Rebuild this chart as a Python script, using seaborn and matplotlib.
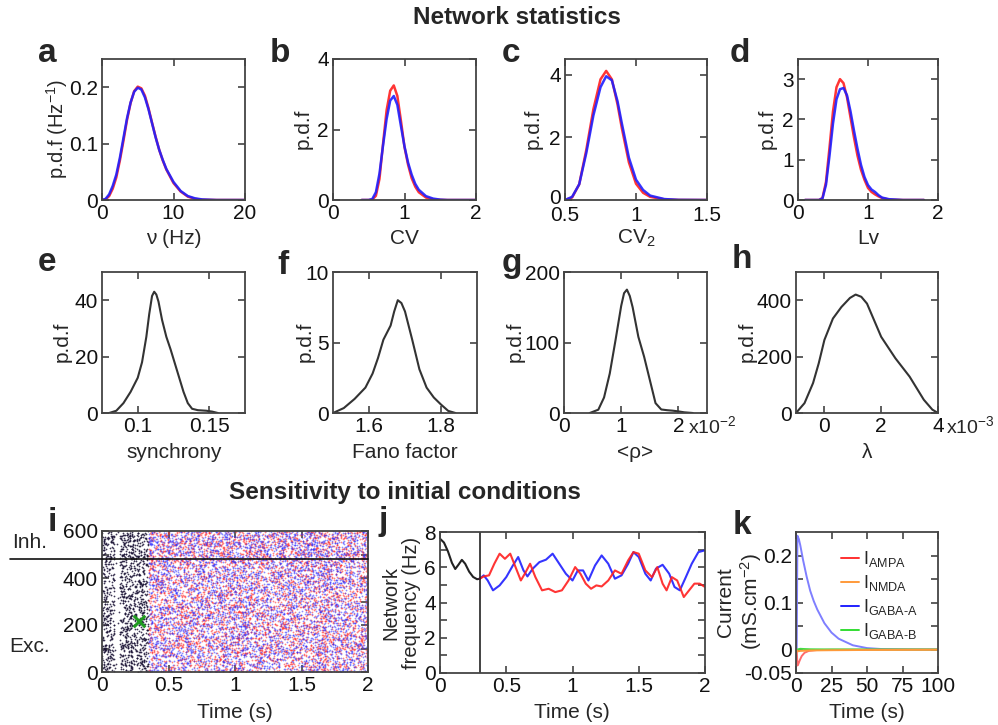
import numpy as np
import matplotlib
matplotlib.use("Agg")
import matplotlib.pyplot as plt
import matplotlib.transforms as mtransforms
import seaborn as sns
from matplotlib.lines import Line2D

# ---------------------------------------------------------------- data
# a: firing-rate distribution (Hz)
nu_x = [0, 0.5, 1, 1.5, 2, 2.5, 3, 3.5, 4, 4.5, 5, 5.5, 6, 6.5, 7, 7.5, 8, 8.5, 9, 10, 11, 12, 13, 14, 16, 20]
nu_red = [0, 0.001, 0.007, 0.02, 0.04, 0.07, 0.105, 0.142, 0.172, 0.193, 0.201, 0.198, 0.185, 0.163, 0.137, 0.112, 0.089, 0.07, 0.054, 0.03, 0.015, 0.006, 0.002, 0.0005, 0, 0]
nu_blue = [0, 0.002, 0.01, 0.025, 0.045, 0.075, 0.11, 0.145, 0.173, 0.192, 0.199, 0.196, 0.182, 0.161, 0.136, 0.111, 0.089, 0.071, 0.055, 0.032, 0.016, 0.007, 0.003, 0.001, 0, 0]

# b: coefficient of variation
cv_x = [0.4, 0.5, 0.55, 0.6, 0.65, 0.7, 0.75, 0.8, 0.85, 0.9, 0.95, 1.0, 1.05, 1.1, 1.15, 1.2, 1.3, 1.4, 1.5, 1.6, 2.0]
cv_red = [0, 0, 0.01, 0.12, 0.6, 1.6, 2.55, 3.1, 3.25, 2.95, 2.25, 1.5, 1.0, 0.62, 0.38, 0.22, 0.07, 0.02, 0.005, 0, 0]
cv_blue = [0, 0, 0.03, 0.22, 0.75, 1.55, 2.3, 2.82, 2.95, 2.7, 2.1, 1.52, 1.06, 0.72, 0.46, 0.29, 0.11, 0.04, 0.01, 0, 0]

# c: CV2
cv2_x = [0.5, 0.55, 0.6, 0.65, 0.7, 0.75, 0.79, 0.83, 0.87, 0.9, 0.95, 1.0, 1.05, 1.1, 1.2, 1.3, 1.5]
cv2_red = [0, 0.08, 0.5, 1.6, 2.9, 3.85, 4.12, 3.85, 3.05, 2.3, 1.2, 0.52, 0.23, 0.1, 0.02, 0.003, 0]
cv2_blue = [0, 0.1, 0.5, 1.5, 2.7, 3.6, 3.95, 3.82, 3.15, 2.45, 1.35, 0.65, 0.32, 0.14, 0.03, 0.005, 0]

# d: local variation
lv_x = [0.1, 0.3, 0.35, 0.4, 0.45, 0.5, 0.55, 0.6, 0.65, 0.7, 0.75, 0.8, 0.85, 0.9, 0.95, 1.0, 1.05, 1.1, 1.15, 1.2, 1.3, 1.5, 1.8]
lv_red = [0, 0, 0.05, 0.45, 1.3, 2.2, 2.8, 3.0, 2.9, 2.55, 2.05, 1.55, 1.1, 0.75, 0.5, 0.3, 0.2, 0.14, 0.09, 0.05, 0.01, 0, 0]
lv_blue = [0, 0, 0.04, 0.38, 1.1, 1.9, 2.5, 2.75, 2.78, 2.6, 2.2, 1.72, 1.27, 0.87, 0.57, 0.37, 0.26, 0.2, 0.12, 0.06, 0.02, 0, 0]

# e: synchrony
sync_x = [0.080, 0.085, 0.09, 0.095, 0.1, 0.103, 0.106, 0.108, 0.110, 0.1115, 0.113, 0.1145, 0.117, 0.12, 0.123, 0.126, 0.129, 0.132, 0.135, 0.138, 0.142, 0.148, 0.152, 0.156]
sync_pdf = [0, 0.8, 3.5, 7.5, 12.5, 18, 27, 35, 41.5, 43, 42, 39.5, 33, 27, 22.5, 17.5, 12.5, 7.5, 3.5, 1.5, 1.0, 0.8, 0.5, 0]

# f: Fano factor
fano_x = [1.5, 1.53, 1.56, 1.59, 1.61, 1.625, 1.64, 1.66, 1.67, 1.68, 1.69, 1.7, 1.72, 1.74, 1.76, 1.78, 1.8, 1.82, 1.84]
fano_pdf = [0, 0.35, 1.0, 1.8, 2.8, 3.9, 5.2, 6.2, 7.2, 8.0, 7.8, 7.2, 5.2, 3.1, 1.8, 1.1, 0.6, 0.15, 0]

# g: mean pairwise correlation (x10^-2)
rho_x = [0.45, 0.6, 0.7, 0.8, 0.9, 1.0, 1.05, 1.1, 1.15, 1.2, 1.3, 1.4, 1.5, 1.6, 1.7, 1.8, 1.9, 2.0, 2.1, 2.25]
rho_pdf = [0, 4.7, 22, 56, 103, 152, 170, 175, 166, 150, 108, 80, 47, 14, 5, 4, 3.3, 2.3, 1.0, 0]

# h: largest Lyapunov exponent (x10^-3)
lam_x = [-1.0, -0.7, -0.4, -0.2, 0.0, 0.3, 0.6, 0.9, 1.1, 1.3, 1.5, 2.0, 2.5, 3.0, 3.5, 3.8, 4.0]
lam_pdf = [0, 35, 106, 176, 259, 335, 376, 408, 420, 412, 388, 270, 194, 129, 47, 12, 0]

# i: raster, spike counts per time segment (exc rows 0-480, inh rows 480-600)
n_exc, n_inh = 480, 120
pre_edges = [0.0, 0.03, 0.095, 0.135, 0.22, 0.35]
pre_exc = [90, 160, 8, 270, 360]
pre_inh = [28, 48, 3, 80, 105]
post_edges = [0.35, 0.5, 1.0, 1.5, 2.0]
post_exc = [360, 1150, 1150, 1150]
post_inh = [105, 330, 330, 330]
perturb_t, perturb_n = 0.28, 215

# j: network frequency (Hz)
j_t_pre = [0, 0.03, 0.06, 0.09, 0.115, 0.14, 0.165, 0.19, 0.22, 0.25, 0.28, 0.3]
j_f_pre = [7.62, 7.4, 6.9, 6.25, 5.9, 6.15, 6.42, 6.2, 5.75, 5.45, 5.32, 5.35]
j_t_blue = [0.3, 0.33, 0.36, 0.4, 0.45, 0.5, 0.55, 0.59, 0.63, 0.66, 0.7, 0.75, 0.8, 0.85, 0.9, 0.95, 1.0,
            1.04, 1.08, 1.12, 1.17, 1.22, 1.27, 1.32, 1.37, 1.42, 1.46, 1.5, 1.55, 1.59, 1.63, 1.68, 1.73,
            1.77, 1.81, 1.85, 1.9, 1.95, 2.0]
j_f_blue = [5.35, 5.54, 5.25, 4.69, 4.97, 5.44, 6.1, 6.58, 5.82, 5.48, 5.92, 6.29, 6.43, 6.77, 6.2, 5.63, 5.25,
            5.82, 5.82, 5.25, 6.1, 6.67, 6.2, 5.35, 5.54, 6.2, 6.86, 6.58, 5.63, 5.25, 5.92, 6.14, 5.63,
            4.88, 4.69, 5.35, 6.2, 6.86, 6.96]
j_t_red = [0.3, 0.33, 0.37, 0.41, 0.45, 0.49, 0.53, 0.57, 0.61, 0.64, 0.68, 0.72, 0.77, 0.82, 0.87, 0.92, 0.97,
           1.02, 1.06, 1.1, 1.14, 1.18, 1.22, 1.27, 1.32, 1.37, 1.42, 1.46, 1.5, 1.55, 1.6, 1.64, 1.68,
           1.71, 1.75, 1.79, 1.84, 1.88, 1.92, 1.96, 2.0]
j_f_red = [5.35, 5.48, 5.54, 6.2, 6.77, 6.48, 6.77, 6.01, 5.25, 5.63, 6.2, 5.44, 4.69, 4.78, 4.59, 4.69, 5.25,
           6.01, 5.63, 5.07, 4.78, 4.97, 4.91, 5.25, 5.82, 5.63, 6.39, 6.86, 6.77, 5.82, 5.44, 6.01, 5.07,
           4.69, 5.44, 5.25, 4.31, 4.69, 5.07, 5.07, 4.88]

# k: synaptic currents (mS.cm^-2)
k_t_gabaa = [0, 0.5, 1.0, 2, 3, 5, 7.5, 10, 12.5, 15, 20, 25, 30, 40, 50, 60, 80, 100]
k_i_gabaa = [0, 0, 0.242, 0.235, 0.222, 0.19, 0.155, 0.125, 0.103, 0.085, 0.056, 0.036, 0.023, 0.009, 0.003, 0.001, 0.0002, 0]
k_t_ampa = [0, 0.5, 1.0, 1.5, 2.5, 4, 6, 9, 15, 25, 100]
k_i_ampa = [0, 0, -0.034, -0.032, -0.024, -0.014, -0.007, -0.003, -0.001, -0.0005, -0.0002]
k_t_nmda = [0, 1, 3, 10, 25, 50, 100]
k_i_nmda = [0, -0.004, -0.003, -0.002, -0.0015, -0.001, -0.0005]
k_t_gabab = [0, 1, 3, 6, 10, 20, 100]
k_i_gabab = [0, 0, 0.0015, 0.001, 0.0005, 0.0002, 0]

# ---------------------------------------------------------------- style
W, H = 998, 725
sns.set_theme(style="ticks")
plt.rcParams["font.family"] = ["Liberation Sans", "DejaVu Sans"]
plt.rcParams["mathtext.fontset"] = "custom"
plt.rcParams["mathtext.rm"] = "Liberation Sans"
plt.rcParams["mathtext.it"] = "Liberation Sans:italic"
plt.rcParams["mathtext.bf"] = "Liberation Sans:bold"

RED, BLUE, DARK = "#ff1f1f", "#1f1fff", "#333333"
FS = 15

fig = plt.figure(figsize=(W / 100, H / 100), dpi=100)


def box(l, t, r, b):
    return [l / W, 1 - b / H, (r - l) / W, (b - t) / H]


def ftext(x, y, s, **kw):
    fig.text(x / W, 1 - y / H, s, **kw)


def style(ax, xlim, ylim, xticks, xlabels, yticks, ylabels, xpad=3):
    ax.set_xlim(*xlim)
    ax.set_ylim(*ylim)
    ax.set_xticks(xticks, xlabels)
    ax.set_yticks(yticks, ylabels)
    ax.set_xlabel("")
    ax.set_ylabel("")
    ax.tick_params(direction="in", top=True, right=True, length=5, width=1.1,
                   color="#333333", labelsize=FS, labelcolor="#111111")
    ax.tick_params(axis="x", pad=xpad)
    ax.tick_params(axis="y", pad=3)
    for sp in ax.spines.values():
        sp.set_color("#444444")
        sp.set_linewidth(1.3)


def letter(x, y, s):
    ftext(x, y, s, fontsize=24, fontweight="bold", ha="left", va="baseline")


def pair(ax, x, r, b):
    sns.lineplot(x=x, y=r, ax=ax, color=RED, lw=1.8, alpha=0.9)
    sns.lineplot(x=x, y=b, ax=ax, color=BLUE, lw=1.8, alpha=0.9)


ftext(517, 18, "Network statistics", fontsize=17.5, fontweight="bold", ha="center", va="center")
ftext(405, 492, "Sensitivity to initial conditions", fontsize=17.5, fontweight="bold", ha="center", va="center")

# ---------------------------------------------------------------- row 1
ax = fig.add_axes(box(102, 59, 245, 200))
pair(ax, nu_x, nu_red, nu_blue)
style(ax, (0, 20), (0, 0.25), [0, 10, 20], ["0", "10", "20"], [0, 0.1, 0.2], ["0", "0.1", "0.2"])
ftext(174, 238, "ν (Hz)", fontsize=FS, ha="center", va="center")
ftext(57, 129, "p.d.f (Hz$^{\\mathregular{-1}}$)", fontsize=FS - 0.5, ha="center", va="center", rotation=90)
letter(38, 62, "a")

ax = fig.add_axes(box(333, 59, 476, 200))
pair(ax, cv_x, cv_red, cv_blue)
style(ax, (0, 2), (0, 4), [0, 1, 2], ["0", "1", "2"], [0, 2, 4], ["0", "2", "4"])
ftext(404, 238, "CV", fontsize=FS, ha="center", va="center")
ftext(303, 129, "p.d.f", fontsize=FS, ha="center", va="center", rotation=90)
letter(270, 62, "b")

ax = fig.add_axes(box(565, 59, 707, 200))
pair(ax, cv2_x, cv2_red, cv2_blue)
style(ax, (0.5, 1.5), (0, 4.5), [0.5, 1, 1.5], ["0.5", "1", "1.5"], [0, 2, 4], ["0", "2", "4"], xpad=4)
# lift the corner "0" a little so it clears the "0.5" below it
zero_lbl = ax.get_yticklabels()[0]
zero_lbl.set_transform(zero_lbl.get_transform()
                       + mtransforms.ScaledTranslation(0, 4 / 100, fig.dpi_scale_trans))
ftext(636, 238, "CV$_{\\mathregular{2}}$", fontsize=FS, ha="center", va="center")
ftext(533, 129, "p.d.f", fontsize=FS, ha="center", va="center", rotation=90)
letter(502, 62, "c")

ax = fig.add_axes(box(798, 59, 938, 200))
pair(ax, lv_x, lv_red, lv_blue)
style(ax, (0, 2), (0, 3.5), [0, 1, 2], ["0", "1", "2"], [0, 1, 2, 3], ["0", "1", "2", "3"])
ftext(868, 238, "Lv", fontsize=FS, ha="center", va="center")
ftext(767, 129, "p.d.f", fontsize=FS, ha="center", va="center", rotation=90)
letter(730, 62, "d")

# ---------------------------------------------------------------- row 2
ax = fig.add_axes(box(102, 272, 245, 413))
sns.lineplot(x=sync_x, y=sync_pdf, ax=ax, color=DARK, lw=1.5)
style(ax, (0.075, 0.175), (0, 50), [0.1, 0.15], ["0.1", "0.15"], [0, 20, 40], ["0", "20", "40"])
ftext(174, 452, "synchrony", fontsize=FS, ha="center", va="center")
ftext(62, 342, "p.d.f", fontsize=FS, ha="center", va="center", rotation=90)
letter(38, 271, "e")

ax = fig.add_axes(box(333, 272, 477, 413))
sns.lineplot(x=fano_x, y=fano_pdf, ax=ax, color=DARK, lw=1.5)
style(ax, (1.5, 1.9), (0, 10), [1.6, 1.8], ["1.6", "1.8"], [0, 5, 10], ["0", "5", "10"])
ftext(405, 452, "Fano factor", fontsize=FS, ha="center", va="center")
ftext(305, 342, "p.d.f", fontsize=FS, ha="center", va="center", rotation=90)
letter(277, 274, "f")

ax = fig.add_axes(box(564, 272, 707, 413))
sns.lineplot(x=rho_x, y=rho_pdf, ax=ax, color=DARK, lw=1.5)
style(ax, (0, 2.5), (0, 200), [0, 1, 2], ["0", "1", "2"], [0, 100, 200], ["0", "100", "200"])
ftext(635, 452, "<ρ>", fontsize=FS, ha="center", va="center")
ftext(688, 426, "x10$^{\\mathregular{-2}}$", fontsize=FS - 1, ha="left", va="center")
ftext(515, 342, "p.d.f", fontsize=FS, ha="center", va="center", rotation=90)
letter(502, 272, "g")

ax = fig.add_axes(box(796, 272, 938, 413))
sns.lineplot(x=lam_x, y=lam_pdf, ax=ax, color=DARK, lw=1.5)
style(ax, (-1, 4), (0, 500), [0, 2, 4], ["0", "2", "4"], [0, 200, 400], ["0", "200", "400"])
ftext(867, 452, "λ", fontsize=FS, ha="center", va="center")
ftext(946, 426, "x10$^{\\mathregular{-3}}$", fontsize=FS - 1, ha="left", va="center")
ftext(747, 342, "p.d.f", fontsize=FS, ha="center", va="center", rotation=90)
letter(732, 268, "h")


# ---------------------------------------------------------------- row 3
def weyl2(k, a, b):
    """Quadratic Weyl sequence frac(a*k + b*k^2): evenly spread, no visible lattice."""
    k = np.asarray(k, dtype=np.float64)
    return np.mod(a * k + np.mod(b * k * k, 1.0), 1.0)


def spikes(edges, counts, row0, rows, offset, consts):
    xs, ys = [], []
    pos = offset
    for (t0, t1), n in zip(zip(edges[:-1], edges[1:]), counts):
        k = pos + np.arange(1, n + 1)
        xs.append(t0 + (t1 - t0) * weyl2(k, consts[0], consts[1]))
        ys.append(row0 + rows * weyl2(k, consts[2], consts[3]))
        pos += n
    return np.concatenate(xs), np.concatenate(ys)


ax = fig.add_axes(box(102, 531, 368, 672))
layers = [
    (pre_edges, pre_exc, pre_inh, (np.sqrt(2), np.sqrt(3) / 7, np.sqrt(5), np.sqrt(7) / 11), "#1c1436", 0.85),
    (post_edges, post_exc, post_inh, (np.sqrt(11), np.sqrt(13) / 3, np.sqrt(17), np.sqrt(19) / 5), "#ff3030", 0.6),
    (post_edges, post_exc, post_inh, (np.sqrt(23), np.sqrt(29) / 9, np.sqrt(31), np.sqrt(37) / 13), "#3030ff", 0.55),
]
for edges, ce, ci, consts, col, a in layers:
    xe, ye = spikes(edges, ce, 0, n_exc, 0, consts)
    xi, yi = spikes(edges, ci, n_exc, n_inh, 20000, consts)
    sns.scatterplot(x=np.concatenate([xe, xi]), y=np.concatenate([ye, yi]), ax=ax,
                    s=1.6, color=col, linewidth=0, alpha=a, legend=False)
ax.scatter([perturb_t], [perturb_n], marker="x", s=70, linewidths=2.2, color="#1f9a1f", zorder=5)
ax.axhline(n_exc, xmin=-(102 - 10) / 266, xmax=1, color="#111111", lw=1.2, clip_on=False, zorder=6)
style(ax, (0, 2), (0, 600), [0, 0.5, 1, 1.5, 2], ["0", "0.5", "1", "1.5", "2"],
      [0, 100, 200, 300, 400, 500, 600], ["0", "", "200", "", "400", "", "600"])
ftext(235, 713, "Time (s)", fontsize=FS, ha="center", va="center")
ftext(30, 542, "Inh.", fontsize=FS, ha="center", va="center")
ftext(30, 647, "Exc.", fontsize=FS, ha="center", va="center")
letter(48, 531, "i")

ax = fig.add_axes(box(440, 532, 705, 673))
sns.lineplot(x=j_t_pre, y=j_f_pre, ax=ax, color="#222222", lw=1.5)
sns.lineplot(x=j_t_blue, y=j_f_blue, ax=ax, color=BLUE, lw=1.5, alpha=0.9)
sns.lineplot(x=j_t_red, y=j_f_red, ax=ax, color=RED, lw=1.5, alpha=0.9)
ax.axvline(0.3, color="#222222", lw=1.2)
style(ax, (0, 2), (0, 8), [0, 0.5, 1, 1.5, 2], ["0", "0.5", "1", "1.5", "2"],
      list(range(9)), ["0", "", "2", "", "4", "", "6", "", "8"])
ftext(572, 713, "Time (s)", fontsize=FS, ha="center", va="center")
ftext(401, 603, "Network\nfrequency (Hz)", fontsize=FS - 0.5, ha="center", va="center", rotation=90,
      linespacing=1.1)
letter(379, 530, "j")

ax = fig.add_axes(box(796, 532, 938, 673))
k_series = [
    (k_t_gabaa, k_i_gabaa, "#7f7fff"),
    (k_t_ampa, k_i_ampa, "#ff6a6a"),
    (k_t_gabab, k_i_gabab, "#44dd44"),
    (k_t_nmda, k_i_nmda, "#ff9a3a"),
]
for t, i, c in k_series:
    sns.lineplot(x=t, y=i, ax=ax, color=c, lw=1.4)
style(ax, (0, 100), (-0.05, 0.25), [0, 25, 50, 75, 100], ["0", "25", "50", "75", "100"],
      [-0.05, 0, 0.05, 0.1, 0.15, 0.2], ["-0.05", "0", "", "0.1", "", "0.2"])
handles = [Line2D([], [], color=c, lw=1.4) for c in ["#ff3030", "#ff9a3a", "#2020ff", "#33dd33"]]
labels = ["I$_{\\mathregular{AMPA}}$", "I$_{\\mathregular{NMDA}}$",
          "I$_{\\mathregular{GABA\\text{-}A}}$", "I$_{\\mathregular{GABA\\text{-}B}}$"]
ax.legend(handles, labels, loc="upper left", bbox_to_anchor=(0.25, 0.94), frameon=False,
          fontsize=13, handlelength=1.0, handletextpad=0.25, labelspacing=0.22, borderpad=0)
ftext(867, 713, "Time (s)", fontsize=FS, ha="center", va="center")
ftext(740, 602, "Current\n(mS.cm$^{\\mathregular{-2}}$)", fontsize=FS, ha="center", va="center",
      rotation=90, linespacing=1.15)
letter(733, 534, "k")

fig.savefig("out.png", dpi=100)
